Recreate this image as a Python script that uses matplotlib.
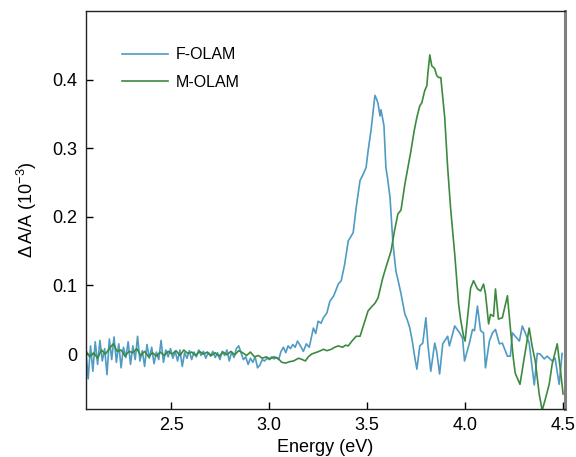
import numpy as np
import matplotlib
matplotlib.use('Agg')
import matplotlib.pyplot as plt

plt.rcParams['font.family'] = ['Liberation Sans', 'DejaVu Sans']
plt.rcParams['mathtext.fontset'] = 'custom'
plt.rcParams['mathtext.rm'] = 'Liberation Sans'
plt.rcParams['mathtext.it'] = 'Liberation Sans:italic'

# F-OLAM (blue) - energy (eV) and dA/A (1e-3)
f_x = [2.065, 2.077, 2.089, 2.101, 2.113, 2.125, 2.137, 2.149, 2.161, 2.173,
       2.185, 2.197, 2.209, 2.221, 2.233, 2.245, 2.257, 2.269, 2.281, 2.293,
       2.305, 2.317, 2.329, 2.341, 2.353, 2.365, 2.377, 2.389, 2.401, 2.413,
       2.425, 2.437, 2.449, 2.461, 2.473, 2.485, 2.497, 2.509, 2.521, 2.533,
       2.545, 2.557, 2.569, 2.581, 2.593, 2.605, 2.617, 2.629, 2.641, 2.653,
       2.665, 2.677, 2.689, 2.701, 2.713, 2.725, 2.737, 2.749, 2.761, 2.773,
       2.785, 2.797, 2.809, 2.821, 2.833, 2.845, 2.857, 2.869, 2.881, 2.893,
       2.905, 2.917, 2.929, 2.941, 2.953, 2.965, 2.977, 2.989, 3.001, 3.013,
       3.025, 3.037, 3.049, 3.061, 3.073, 3.085, 3.097, 3.109, 3.121, 3.133,
       3.145, 3.16, 3.175, 3.19, 3.205, 3.226, 3.238, 3.25, 3.265, 3.277,
       3.295, 3.31, 3.33, 3.353, 3.368, 3.385, 3.404, 3.429, 3.445, 3.464,
       3.48, 3.495, 3.505, 3.52, 3.54, 3.548, 3.556, 3.566, 3.571, 3.586,
       3.596, 3.605, 3.617, 3.632, 3.647, 3.66, 3.673, 3.693, 3.705, 3.718,
       3.73, 3.744, 3.754, 3.769, 3.784, 3.80, 3.81, 3.825, 3.845, 3.855,
       3.87, 3.886, 3.911, 3.92, 3.947, 3.972, 3.987, 3.997, 4.022, 4.038,
       4.048, 4.063, 4.079, 4.094, 4.104, 4.124, 4.14, 4.155, 4.175, 4.19,
       4.216, 4.231, 4.241, 4.256, 4.277, 4.292, 4.307, 4.327, 4.353, 4.368,
       4.383, 4.404, 4.419, 4.444, 4.459, 4.48, 4.495]
f_y = [0.005, -0.036, 0.012, -0.025, 0.018, -0.015, 0.020, -0.010, 0.008, -0.030,
       0.022, -0.008, 0.025, -0.012, 0.015, -0.020, 0.010, -0.005, 0.018, -0.015,
       0.012, -0.008, 0.026, -0.010, 0.005, -0.018, 0.014, -0.006, 0.010, -0.014,
       0.003, -0.008, 0.020, -0.012, 0.006, -0.004, 0.008, -0.006, 0.004, -0.010,
       0.006, -0.018, 0.002, -0.006, 0.005, -0.008, 0.003, -0.004, 0.006, -0.002,
       0.004, -0.006, 0.002, -0.003, 0.004, -0.005, 0.002, -0.008, 0.004, -0.002,
       0.006, -0.010, 0.003, -0.005, 0.008, 0.012, 0.002, -0.008, -0.004, -0.015,
       -0.006, -0.012, -0.004, -0.020, -0.016, -0.008, -0.010, -0.006, -0.008, -0.004,
       -0.007, -0.005, -0.008, 0.004, 0.010, 0.002, 0.012, 0.008, 0.014, 0.010,
       0.019, 0.012, 0.004, 0.015, 0.010, 0.038, 0.030, 0.048, 0.045, 0.053,
       0.060, 0.077, 0.085, 0.102, 0.107, 0.130, 0.165, 0.177, 0.215, 0.253,
       0.262, 0.272, 0.296, 0.326, 0.377, 0.372, 0.365, 0.347, 0.356, 0.333,
       0.272, 0.255, 0.228, 0.161, 0.121, 0.105, 0.088, 0.058, 0.050, 0.038,
       0.020, -0.006, -0.022, 0.012, 0.016, 0.053, 0.015, -0.025, 0.016, 0.004,
       -0.029, 0.015, 0.026, 0.012, 0.041, 0.031, 0.023, -0.010, 0.016, 0.036,
       0.034, 0.070, 0.034, 0.031, -0.020, 0.019, 0.031, 0.036, 0.015, 0.016,
       -0.003, -0.003, 0.031, 0.026, 0.019, 0.041, 0.031, 0.016, -0.045, 0.001,
       0.000, -0.007, -0.003, -0.010, -0.006, -0.044, 0.001]

# M-OLAM (green)
m_x = [2.065, 2.085, 2.105, 2.125, 2.145, 2.165, 2.185, 2.205, 2.225, 2.245,
       2.265, 2.285, 2.305, 2.325, 2.345, 2.365, 2.385, 2.405, 2.425, 2.445,
       2.465, 2.485, 2.505, 2.525, 2.545, 2.565, 2.585, 2.605, 2.625, 2.645,
       2.665, 2.685, 2.705, 2.725, 2.745, 2.765, 2.785, 2.805, 2.825, 2.845,
       2.865, 2.885, 2.905, 2.925, 2.945, 2.965, 2.985, 3.005, 3.025, 3.045,
       3.065, 3.085, 3.105, 3.125, 3.15, 3.17, 3.185, 3.2, 3.216, 3.235,
       3.255, 3.277, 3.295, 3.317, 3.335, 3.353, 3.375, 3.39, 3.404, 3.42,
       3.444, 3.464, 3.485, 3.505, 3.52, 3.54, 3.556, 3.58, 3.6, 3.622,
       3.64, 3.657, 3.673, 3.693, 3.71, 3.723, 3.74, 3.754, 3.769, 3.779,
       3.794, 3.805, 3.81, 3.82, 3.83, 3.845, 3.855, 3.865, 3.876, 3.896,
       3.911, 3.926, 3.947, 3.967, 3.977, 3.992, 4.0, 4.013, 4.028, 4.043,
       4.063, 4.079, 4.094, 4.104, 4.12, 4.13, 4.145, 4.155, 4.17, 4.19,
       4.216, 4.231, 4.246, 4.256, 4.28, 4.302, 4.327, 4.343, 4.358, 4.378,
       4.393, 4.409, 4.429, 4.444, 4.47, 4.485, 4.5]
m_y = [0.005, -0.004, 0.002, -0.006, 0.006, 0.000, 0.008, 0.015, 0.004, 0.006,
       -0.003, 0.004, 0.002, 0.008, -0.002, 0.004, -0.004, 0.002, -0.003, 0.003,
       -0.002, 0.004, 0.000, 0.005, -0.002, 0.006, 0.001, 0.003, -0.002, 0.004,
       0.000, 0.003, -0.002, 0.002, -0.003, 0.003, -0.001, 0.004, -0.001, 0.005,
       0.002, -0.002, 0.003, -0.004, -0.002, -0.006, -0.004, -0.007, -0.004, -0.006,
       -0.012, -0.013, -0.011, -0.010, -0.006, -0.008, -0.010, -0.004, 0.000, 0.002,
       0.004, 0.007, 0.005, 0.007, 0.010, 0.012, 0.010, 0.013, 0.012, 0.018,
       0.026, 0.026, 0.045, 0.063, 0.068, 0.074, 0.082, 0.111, 0.130, 0.150,
       0.180, 0.204, 0.210, 0.248, 0.275, 0.295, 0.325, 0.345, 0.362, 0.366,
       0.384, 0.391, 0.409, 0.436, 0.420, 0.416, 0.406, 0.403, 0.403, 0.345,
       0.272, 0.213, 0.146, 0.073, 0.051, 0.026, 0.019, 0.055, 0.096, 0.107,
       0.095, 0.092, 0.102, 0.088, 0.044, 0.058, 0.055, 0.095, 0.051, 0.053,
       0.085, 0.038, -0.006, -0.028, -0.044, -0.005, 0.038, 0.010, -0.010, -0.058,
       -0.082, -0.066, -0.044, -0.015, 0.015, -0.020, -0.058]

x_ticks = [2.5, 3.0, 3.5, 4.0, 4.5]
x_ticklabels = ['2.5', '3.0', '3.5', '4.0', '4.5']
y_ticks = [0, 0.1, 0.2, 0.3, 0.4]
y_ticklabels = ['0', '0.1', '0.2', '0.3', '0.4']

fig = plt.figure(figsize=(5.76, 4.57), dpi=100)
ax = fig.add_axes([0.149, 0.105, 0.832, 0.871])

ax.plot(f_x, f_y, color='#4f9bc4', lw=1.2, label='F-OLAM')
ax.plot(m_x, m_y, color='#3c8a3e', lw=1.2, label='M-OLAM')

ax.set_xlim(2.065, 4.51)
ax.set_ylim(-0.08, 0.50)
ax.set_xticks(x_ticks)
ax.set_xticklabels(x_ticklabels)
ax.set_yticks(y_ticks)
ax.set_yticklabels(y_ticklabels)
ax.tick_params(direction='in', length=5, width=1, labelsize=13, pad=6)
ax.tick_params(axis='x', pad=6)

for s in ['left', 'bottom', 'top']:
    ax.spines[s].set_linewidth(1.0)
    ax.spines[s].set_color('#222222')
ax.spines['right'].set_linewidth(2.2)
ax.spines['right'].set_color('#808080')

ax.set_xlabel('Energy (eV)', fontsize=13, labelpad=3)
ax.set_ylabel(r'$\Delta\,$A/A (10$^{-3}$)', fontsize=13, labelpad=10)

leg = ax.legend(loc='upper left', bbox_to_anchor=(0.045, 0.945), frameon=False,
                fontsize=11.5, handlelength=2.9, handletextpad=0.5, labelspacing=0.8)

fig.savefig('out.png', dpi=100)
